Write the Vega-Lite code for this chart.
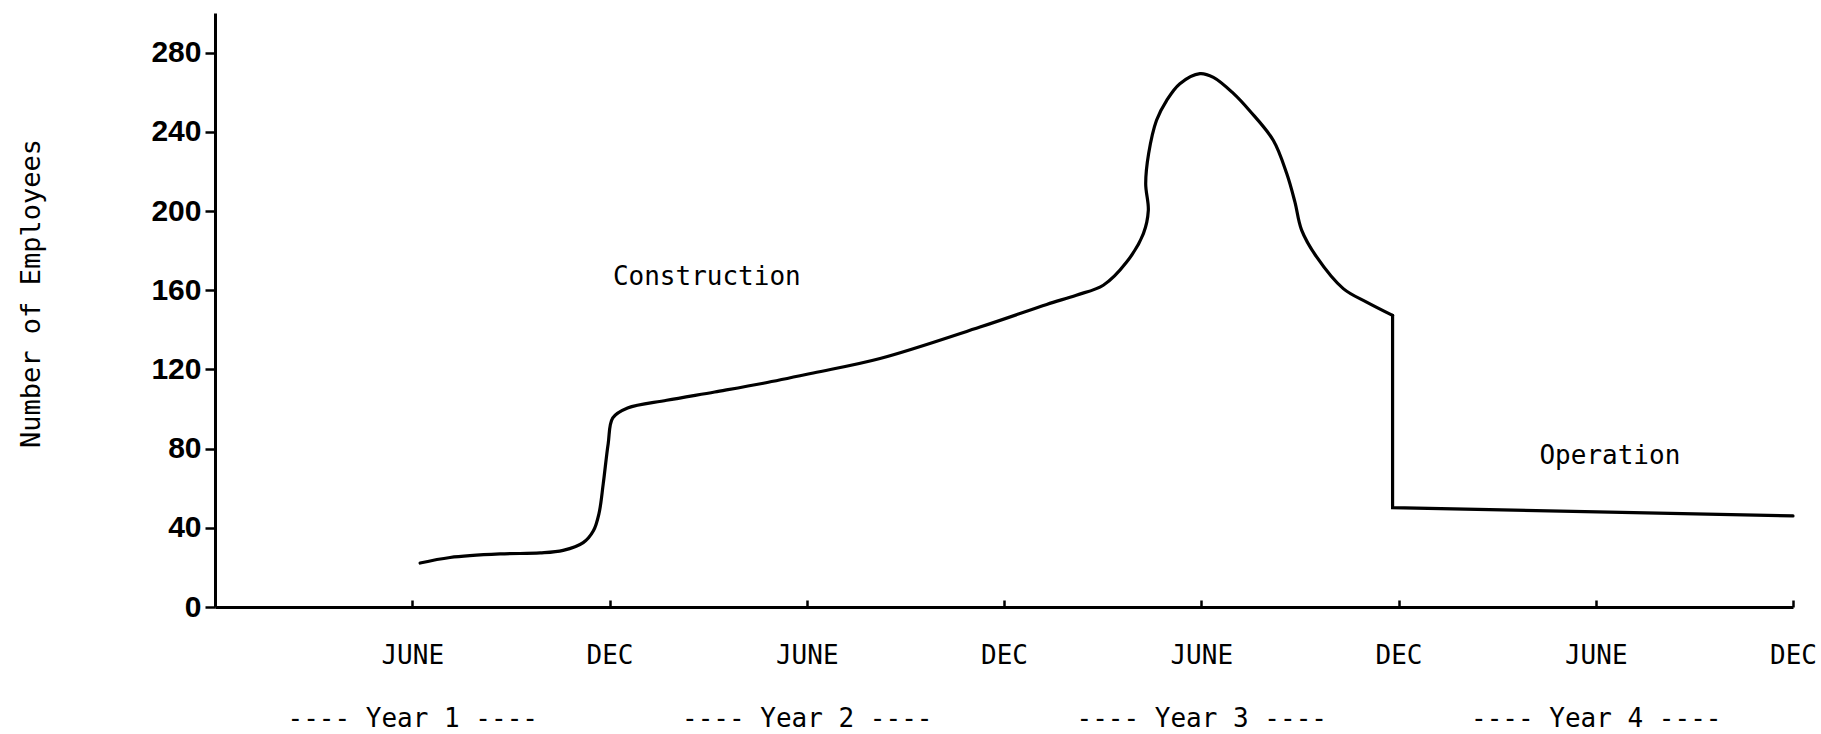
{
  "$schema": "https://vega.github.io/schema/vega-lite/v6.json",
  "width": 1578,
  "height": 594,
  "autosize": "none",
  "padding": {"left": 215, "top": 13, "right": 28, "bottom": 127},
  "background": "white",
  "config": {"view": {"stroke": null}, "axis": {"grid": false}},
  "datasets": {
    "employees": [
      {"i": 1, "part": "construction", "month": 6.24, "employees": 22.2},
      {"i": 2, "part": "construction", "month": 7.15, "employees": 25.0},
      {"i": 3, "part": "construction", "month": 8.67, "employees": 26.8},
      {"i": 4, "part": "construction", "month": 9.89, "employees": 27.3},
      {"i": 5, "part": "construction", "month": 10.59, "employees": 28.6},
      {"i": 6, "part": "construction", "month": 11.2, "employees": 32.5},
      {"i": 7, "part": "construction", "month": 11.51, "employees": 38.5},
      {"i": 8, "part": "construction", "month": 11.68, "employees": 47.2},
      {"i": 9, "part": "construction", "month": 11.81, "employees": 62.3},
      {"i": 10, "part": "construction", "month": 11.96, "employees": 82.5},
      {"i": 11, "part": "construction", "month": 12.1, "employees": 95.5},
      {"i": 12, "part": "construction", "month": 12.55, "employees": 100.5},
      {"i": 13, "part": "construction", "month": 13.74, "employees": 104.4},
      {"i": 14, "part": "construction", "month": 15.2, "employees": 108.6},
      {"i": 15, "part": "construction", "month": 16.68, "employees": 113.0},
      {"i": 16, "part": "construction", "month": 18.2, "employees": 118.2},
      {"i": 17, "part": "construction", "month": 20.23, "employees": 125.5},
      {"i": 18, "part": "construction", "month": 23.27, "employees": 141.4},
      {"i": 19, "part": "construction", "month": 25.3, "employees": 152.8},
      {"i": 20, "part": "construction", "month": 26.2, "employees": 157.5},
      {"i": 21, "part": "construction", "month": 27.02, "employees": 162.5},
      {"i": 22, "part": "construction", "month": 27.73, "employees": 174.2},
      {"i": 23, "part": "construction", "month": 28.24, "employees": 188.6},
      {"i": 24, "part": "construction", "month": 28.39, "employees": 200.3},
      {"i": 25, "part": "construction", "month": 28.31, "employees": 213.8},
      {"i": 26, "part": "construction", "month": 28.4, "employees": 229.0},
      {"i": 27, "part": "construction", "month": 28.64, "employees": 245.8},
      {"i": 28, "part": "construction", "month": 28.95, "employees": 255.9},
      {"i": 29, "part": "construction", "month": 29.35, "employees": 264.3},
      {"i": 30, "part": "construction", "month": 29.96, "employees": 269.4},
      {"i": 31, "part": "construction", "month": 30.37, "employees": 267.5},
      {"i": 32, "part": "construction", "month": 30.97, "employees": 259.5},
      {"i": 33, "part": "construction", "month": 31.48, "employees": 250.5},
      {"i": 34, "part": "construction", "month": 32.19, "employees": 235.7},
      {"i": 35, "part": "construction", "month": 32.6, "employees": 218.9},
      {"i": 36, "part": "construction", "month": 32.85, "employees": 204.5},
      {"i": 37, "part": "construction", "month": 33.05, "employees": 190.5},
      {"i": 38, "part": "construction", "month": 33.51, "employees": 176.8},
      {"i": 39, "part": "construction", "month": 34.32, "employees": 160.8},
      {"i": 40, "part": "construction", "month": 35.03, "employees": 154.0},
      {"i": 41, "part": "construction", "month": 35.82, "employees": 147.3},
      {"i": 42, "part": "operation", "month": 35.82, "employees": 147.3},
      {"i": 43, "part": "operation", "month": 35.82, "employees": 50.2},
      {"i": 44, "part": "operation", "month": 48.0, "employees": 46.0}
    ],
    "labels": [
      {"month": 14.96, "employees": 166.5, "label": "Construction"},
      {"month": 42.43, "employees": 76.2, "label": "Operation"}
    ]
  },
  "layer": [
    {
      "data": {"name": "employees"},
      "transform": [{"filter": "datum.part == 'construction'"}],
      "mark": {"type": "line", "color": "black", "strokeWidth": 3.2, "strokeJoin": "round", "strokeCap": "round", "interpolate": "catmull-rom"},
      "encoding": {
        "x": {
          "field": "month",
          "type": "quantitative",
          "scale": {"domain": [0, 48], "nice": false, "zero": false},
          "axis": {
            "title": null,
            "values": [6, 12, 18, 24, 30, 36, 42, 48],
            "labelExpr": "datum.value == 6 ? ['JUNE', '---- Year 1 ----'] : datum.value == 18 ? ['JUNE', '---- Year 2 ----'] : datum.value == 30 ? ['JUNE', '---- Year 3 ----'] : datum.value == 42 ? ['JUNE', '---- Year 4 ----'] : 'DEC'",
            "tickSize": -7,
            "tickWidth": 2.5,
            "tickColor": "black",
            "domainColor": "black",
            "domainWidth": 2.8,
            "labelFont": "DejaVu Sans Mono",
            "labelFontSize": 26,
            "labelColor": "black",
            "labelPadding": 42,
            "labelLineHeight": 63,
            "labelBaseline": "top",
            "labelFlush": false,
            "labelOverlap": false,
            "labelLimit": 1000
          }
        },
        "y": {
          "field": "employees",
          "type": "quantitative",
          "scale": {"domain": [0, 300], "nice": false},
          "axis": {
            "title": "Number of Employees",
            "values": [0, 40, 80, 120, 160, 200, 240, 280],
            "tickSize": 10,
            "tickWidth": 2.5,
            "tickColor": "black",
            "domainColor": "black",
            "domainWidth": 3,
            "labelFont": "Liberation Sans",
            "labelFontWeight": "bold",
            "labelFontSize": 30,
            "labelColor": "black",
            "labelPadding": 4,
            "titleFont": "DejaVu Sans Mono",
            "titleFontSize": 27,
            "titleFontWeight": "normal",
            "titleColor": "black",
            "titlePadding": 105,
            "titleY": 280
          }
        },
        "order": {"field": "i"}
      }
    },
    {
      "data": {"name": "employees"},
      "transform": [{"filter": "datum.part == 'operation'"}],
      "mark": {"type": "line", "color": "black", "strokeWidth": 3.2, "strokeJoin": "miter", "strokeCap": "round"},
      "encoding": {
        "x": {"field": "month", "type": "quantitative"},
        "y": {"field": "employees", "type": "quantitative"},
        "order": {"field": "i"}
      }
    },
    {
      "data": {"name": "labels"},
      "mark": {"type": "text", "font": "DejaVu Sans Mono", "fontSize": 26, "color": "black"},
      "encoding": {
        "x": {"field": "month", "type": "quantitative"},
        "y": {"field": "employees", "type": "quantitative"},
        "text": {"field": "label"}
      }
    }
  ]
}
